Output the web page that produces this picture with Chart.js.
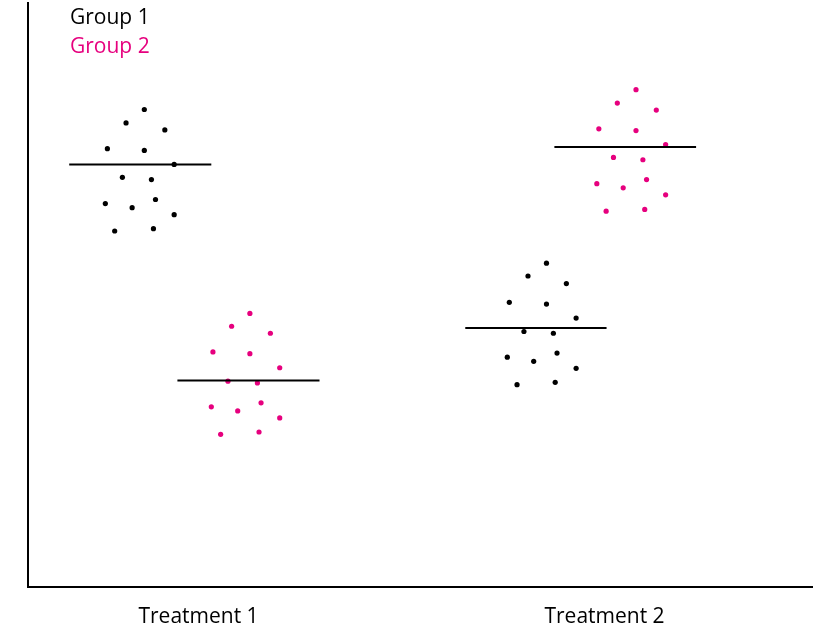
<!DOCTYPE html>
<html>
<head>
<meta charset="utf-8">
<script src="https://cdn.jsdelivr.net/npm/chart.js@4/dist/chart.umd.min.js"></script>
<style>
  html, body { margin: 0; padding: 0; background: #ffffff; overflow: hidden; }
  #wrap { position: relative; width: 840px; height: 629px; overflow: hidden; }
  canvas { display: block; }
  .leg { position: absolute; left: 70px; font-family: "Open Sans", sans-serif; font-size: 21px; line-height: 21px; white-space: nowrap; }
</style>
</head>
<body>
<div id="wrap">
  <canvas id="c" width="840" height="648"></canvas>
  <div class="leg" id="leg1" style="top:6px;color:#000000;"></div>
  <div class="leg" id="leg2" style="top:35px;color:#e6007e;"></div>
</div>
<script>
// ---- data ----
const categories = ["Treatment 1", "Treatment 2"];
const categoryPositions = [1, 3];
const seriesNames = ["Group 1", "Group 2"];
const seriesColors = ["#000000", "#e6007e"];

// Group 1, Treatment 1
const g1t1X = [0.733, 0.643, 0.834, 0.551, 0.733, 0.880, 0.625, 0.768, 0.541, 0.788, 0.673, 0.880, 0.587, 0.778];
const g1t1Y = [81.7, 79.4, 78.2, 75.0, 74.7, 72.3, 70.1, 69.7, 65.6, 66.3, 64.9, 63.7, 60.9, 61.3];
// Group 2, Treatment 1
const g2t1X = [1.253, 1.163, 1.354, 1.071, 1.253, 1.400, 1.145, 1.290, 1.308, 1.063, 1.193, 1.400, 1.109, 1.298];
const g2t1Y = [46.8, 44.6, 43.4, 40.2, 39.9, 37.5, 35.2, 34.9, 31.5, 30.8, 30.1, 28.9, 26.1, 26.5];
// Group 1, Treatment 2
const g1t2X = [2.714, 2.623, 2.812, 2.531, 2.714, 2.860, 2.603, 2.748, 2.766, 2.521, 2.651, 2.860, 2.569, 2.757];
const g1t2Y = [55.4, 53.2, 51.9, 48.7, 48.4, 46.0, 43.7, 43.4, 40.0, 39.3, 38.6, 37.4, 34.6, 35.0];
// Group 2, Treatment 2
const g2t2X = [3.155, 3.063, 3.255, 2.972, 3.155, 3.301, 3.044, 3.189, 3.207, 2.962, 3.092, 3.301, 3.008, 3.198];
const g2t2Y = [85.1, 82.8, 81.6, 78.4, 78.1, 75.7, 73.5, 73.1, 69.7, 69.0, 68.3, 67.1, 64.3, 64.6];

// mean lines: [xStart, xEnd, yMean]
const meanG1T1 = [0.363, 1.063, 72.3];
const meanG2T1 = [0.896, 1.596, 35.3];
const meanG1T2 = [2.314, 3.010, 44.3];
const meanG2T2 = [2.753, 3.451, 75.3];

const xMin = 0.16, xMax = 4.022, yMin = 0, yMax = 100;

// ---- build ----
document.getElementById('leg1').textContent = seriesNames[0];
document.getElementById('leg2').textContent = seriesNames[1];

function pts(xs, ys) { return xs.map((x, i) => ({ x: x, y: ys[i] })); }
function pointSet(xs, ys, color) {
  return { type: 'scatter', data: pts(xs, ys), backgroundColor: color, borderColor: color,
           pointRadius: 2.6, pointBorderWidth: 0, pointHoverRadius: 2.6, showLine: false, order: 2 };
}
function meanSet(m) {
  return { type: 'line', data: [{ x: m[0], y: m[2] }, { x: m[1], y: m[2] }], borderColor: '#000000',
           borderWidth: 2, pointRadius: 0, fill: false, showLine: true, order: 1 };
}

new Chart(document.getElementById('c'), {
  type: 'scatter',
  data: {
    datasets: [
      pointSet(g1t1X, g1t1Y, seriesColors[0]),
      pointSet(g2t1X, g2t1Y, seriesColors[1]),
      pointSet(g1t2X, g1t2Y, seriesColors[0]),
      pointSet(g2t2X, g2t2Y, seriesColors[1]),
      meanSet(meanG1T1), meanSet(meanG2T1), meanSet(meanG1T2), meanSet(meanG2T2)
    ]
  },
  options: {
    responsive: false,
    animation: false,
    events: [],
    layout: { padding: { left: 28, right: 28, top: 0, bottom: 0 } },
    plugins: { legend: { display: false }, tooltip: { enabled: false } },
    scales: {
      x: {
        type: 'linear', min: xMin, max: xMax,
        afterBuildTicks: (axis) => { axis.ticks = categoryPositions.map(v => ({ value: v })); },
        ticks: {
          callback: (v) => { const i = categoryPositions.indexOf(v); return i >= 0 ? categories[i] : ''; },
          color: '#000000', font: { family: 'Open Sans', size: 21 }, padding: 18, maxRotation: 0, autoSkip: false
        },
        grid: { display: false, drawTicks: false },
        border: { display: true, color: '#000000', width: 2 }
      },
      y: {
        min: yMin, max: yMax,
        ticks: { display: false },
        grid: { display: false, drawTicks: false },
        border: { display: true, color: '#000000', width: 2 }
      }
    }
  }
});
</script>
</body>
</html>
